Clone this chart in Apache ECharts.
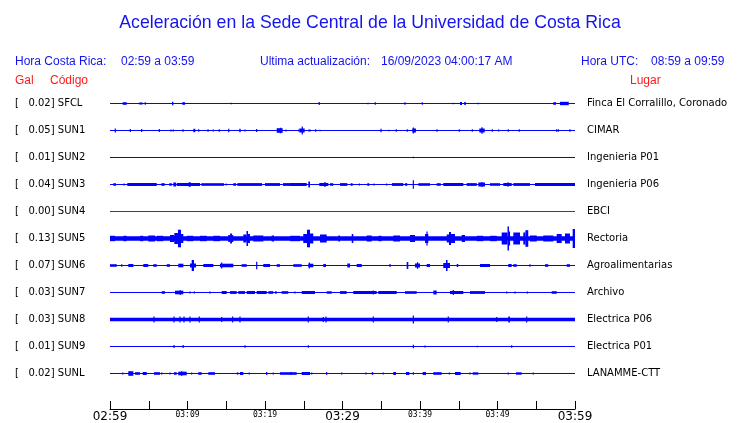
<!DOCTYPE html>
<html><head><meta charset="utf-8">
<script src="https://cdn.jsdelivr.net/npm/echarts@6/dist/echarts.min.js"></script>
<style>html,body{margin:0;padding:0;background:#fff}#c{width:740px;height:423px}</style>
</head><body><div id="c"></div>
<script>
// ---- data ----
const stations = ['SFCL','SUN1','SUN2','SUN3','SUN4','SUN5','SUN6','SUN7','SUN8','SUN9','SUNL'];
const galValues = ['0.02','0.05','0.01','0.04','0.00','0.13','0.07','0.03','0.03','0.01','0.02'];
const places = ['Finca El Corralillo, Coronado','CIMAR','Ingenieria P01','Ingenieria P06','EBCI','Rectoria','Agroalimentarias','Archivo','Electrica P06','Electrica P01','LANAMME-CTT'];
const tickMinutes = [0,10,20,30,40,50,60];
const tickLabels = ['02:59','03:09','03:19','03:29','03:39','03:49','03:59'];
// events: [startMinute, endMinute, amplitude]
const evSFCL = [[1.64,2.15,1.3],[3.74,4.22,1.0],[4.55,4.55,1.2],[8.0,8.17,1.8],[9.33,9.68,1.3],[15.65,15.65,0.8],[27.0,27.0,1.5],[33.29,33.29,0.7],[34.23,34.23,1.3],[38.06,38.06,1.3],[40.3,40.3,1.3],[44.3,44.3,0.8],[45.16,45.42,1.5],[45.68,45.94,1.3],[47.52,47.52,0.7],[57.2,57.55,1.3],[58.06,59.19,1.7]];
const evSUN1 = [[0.68,0.68,2],[2.62,2.62,1.5],[4.09,4.09,1.5],[6.36,6.36,1.5],[7.87,7.87,1],[8.17,8.17,1],[9.42,9.42,1.3],[10.75,11.01,1.7],[11.45,11.45,1.3],[12.65,12.65,1.3],[13.33,13.33,1],[14.1,14.1,1.3],[15.32,15.32,1.7],[16.68,16.86,1.7],[17.42,17.42,1],[18.84,19.0,1.5],[21.51,22.28,2.3],[21.94,22.1,2.8],[22.71,22.71,1],[24.35,24.35,1],[24.43,25.12,2],[24.81,24.81,4],[25.59,25.9,1],[26.54,26.54,1.3],[27.1,27.1,0.7],[34.97,34.97,1.7],[36.0,36.0,0.8],[36.94,36.94,1.3],[38.36,38.36,1.3],[39.01,39.48,2],[39.14,39.14,3],[42.19,42.19,1.3],[45.07,45.07,1.3],[46.75,46.75,1.3],[47.65,48.35,2],[48.0,48.0,3.3],[49.33,49.33,1.3],[50.15,50.15,1],[51.39,51.39,1.3],[52.81,52.81,1.3],[57.64,57.64,1.3],[57.85,57.85,1.3],[59.35,59.35,1.3]];
const evSUN2 = [[39.14,39.14,0.8]];
const evSUN3 = [[0.43,0.77,1.3],[1.81,1.81,1],[2.23,6.03,1.5],[6.62,7.06,1.3],[7.65,7.96,1.3],[8.17,8.52,2],[8.61,11.61,1.5],[10.15,10.41,2.3],[11.78,14.71,1.3],[14.97,14.97,1],[15.91,16.26,1.3],[16.43,19.61,1.4],[20.0,21.94,1.4],[22.32,24.52,1.4],[23.23,25.38,1.5],[25.59,25.81,3],[27.0,28.17,1.5],[27.74,27.74,2.5],[28.39,28.81,1.3],[29.68,30.62,1.4],[31.06,31.31,1.3],[32.17,32.17,1],[33.2,33.46,1.3],[34.06,34.06,1],[35.7,35.7,1],[36.39,37.85,1.4],[38.06,38.36,1.3],[39.14,39.14,4.3],[39.78,41.29,1.3],[42.15,42.67,1.3],[43.0,45.59,1.5],[46.03,47.32,1.4],[47.52,48.39,2],[48.0,48.0,2.5],[49.03,50.32,1.3],[50.75,51.83,1.5],[51.35,51.35,2.2],[52.04,54.19,1.4],[54.84,60,1.4]];
const evSUN4 = [];
const evSUN5 = [[0,60,2.3],[0,0.65,2.7],[1.72,2.15,2.7],[3.87,4.3,2.7],[4.94,5.81,3],[6.03,6.88,2.7],[7.74,8.3,3.5],[8.3,8.77,5.5],[8.77,9.16,8.8],[9.16,9.46,4.5],[9.9,10.75,2.7],[11.61,12.48,2.7],[13.33,14.19,2.7],[15.26,15.5,3.5],[15.5,15.75,5],[15.75,15.91,3.5],[17.2,17.61,4],[17.61,17.81,7.5],[17.81,18.06,4.5],[18.49,19.78,3],[20.86,21.16,3],[23.23,24.52,2.7],[24.94,25.42,4.5],[25.42,25.81,8.8],[25.81,26.23,5],[27.1,27.96,4],[29.46,29.68,3],[31.19,31.39,4.5],[33.12,33.77,3],[34.62,35.06,2.7],[36.55,37.42,3],[38.71,39.35,3.5],[40.65,41.07,4.5],[40.84,40.97,7],[43.45,43.74,4],[43.74,44.0,6.5],[44.0,44.52,4.5],[45.38,45.81,3.5],[47.32,48.17,2.7],[49.03,49.9,2.7],[50.54,51.29,6],[51.29,51.48,12],[51.48,51.61,7],[52.04,52.9,6],[53.33,53.6,6],[53.6,53.97,8.3],[54.19,55.06,3],[55.91,57.2,3],[57.64,58.28,4.5],[58.71,59.35,5],[59.7,60,9.5]];
const evSUN6 = [[0,0.86,1.3],[1.51,1.51,1.2],[2.36,3.01,1.5],[4.3,4.94,1.5],[5.59,6.03,1.3],[7.32,7.74,1.3],[8.81,9.46,1.8],[10.32,11.1,2],[10.54,10.84,5.5],[12.04,13.33,1.5],[14.19,15.91,1.8],[14.41,14.41,3],[16.99,17.64,1.3],[18.93,18.93,3.7],[19.78,20.65,1.5],[21.51,21.94,1.3],[23.65,24.74,1.3],[25.59,26.23,1.8],[25.72,25.72,3],[27.52,27.87,1.5],[30.62,30.97,2],[31.83,32.48,1.5],[36.13,36.13,1.5],[38.28,38.49,3.5],[39.35,40.0,2],[39.68,39.68,3.3],[40.86,41.29,1.5],[43.0,43.87,2.5],[43.35,43.55,5.5],[44.74,44.94,1.5],[47.74,49.03,1.5],[51.39,51.83,1.5],[52.04,52.48,1.3],[54.19,54.19,1.2],[56.13,56.55,1.3],[58.93,59.35,1.3]];
const evSUN7 = [[6.67,7.1,1.3],[8.39,9.46,1.8],[8.97,9.16,2.3],[10.32,10.32,1.1],[10.88,10.88,1.1],[12.9,12.9,1],[14.41,15.06,1.5],[15.48,16.35,1.4],[16.55,17.42,1.4],[17.64,18.71,1.5],[18.93,20.22,1.5],[20.43,21.07,1.3],[21.29,21.51,1.2],[22.15,23.0,1.3],[23.87,23.87,1],[24.74,26.45,1.5],[27.96,28.61,1.2],[29.68,30.54,1.4],[31.39,34.41,1.5],[33.97,33.97,2],[34.62,36.99,1.5],[38.06,39.57,1.3],[41.72,42.15,2],[43.87,45.59,1.5],[44.3,44.3,2.5],[46.45,48.39,1.4],[51.19,51.19,1],[52.26,52.26,1],[53.85,53.85,1],[56.99,57.64,1.3]];
const evSUN8 = [[0,60,1.8],[5.68,5.68,3],[8.26,8.26,3],[9.03,9.03,3],[9.55,9.55,3],[10.32,10.32,3],[11.52,11.52,3],[14.41,14.41,2.5],[15.83,15.83,3],[16.77,16.77,3],[25.59,25.59,3],[27.52,27.52,2.5],[27.87,27.87,3],[33.97,33.97,3],[39.14,39.14,4],[43.65,43.65,3],[49.9,49.9,2.5],[51.39,51.61,3],[53.77,53.77,3]];
const evSUN9 = [[8.26,8.26,1.5],[9.38,9.5,1.5],[17.42,17.42,1.3],[25.59,25.59,1.3],[39.14,39.14,1.8],[40.65,40.65,1],[47.4,47.4,0.7],[51.83,51.83,1.2]];
const evSUNL = [[1.64,1.64,1],[2.36,3.01,2.3],[3.23,3.87,1.3],[4.22,4.74,1.5],[5.68,6.45,1.3],[6.67,6.67,1.1],[7.74,7.74,1.1],[8.26,8.61,1.3],[8.81,9.9,1.8],[9.25,9.25,2.3],[10.54,10.54,1.1],[11.39,11.83,1.3],[12.68,13.55,1.3],[16.35,16.55,1.1],[16.77,17.2,1.5],[17.97,17.97,1.1],[20.22,20.22,1.5],[21.07,21.07,1.1],[21.94,23.45,1.3],[23.23,24.09,1.3],[24.74,25.81,1.5],[26.03,26.03,1.1],[27.87,28.04,1.3],[29.9,29.9,1.1],[33.03,33.03,1.1],[33.77,33.97,1.3],[35.26,35.26,1.1],[36.55,36.9,1.5],[38.19,38.62,1.5],[39.14,39.14,1.2],[40.35,40.77,1.5],[41.72,42.8,1.3],[43.78,43.78,1.1],[44.52,45.25,1.5],[46.45,46.45,1.1],[46.8,47.52,1.2],[51.39,51.39,1.1],[52.39,53.12,1.2],[54.62,54.62,1.1]];
const events = [evSFCL,evSUN1,evSUN2,evSUN3,evSUN4,evSUN5,evSUN6,evSUN7,evSUN8,evSUN9,evSUNL];

// ---- styling / rendering ----
const BLUE = '#0000ff', RED = '#dd0000', HEAD = '#1414ee';
const ROW_PX = 27;           // pixels per row at this chart size
const AMP_SCALE = 1 / ROW_PX; // amplitude units -> row units
const traceColor = i => stations[i] === 'SUN4' ? RED : BLUE;

const chart = echarts.init(document.getElementById('c'), null, {renderer: 'canvas'});

const series = [];
stations.forEach((s, i) => {
  series.push({
    type: 'line', data: [[0, i], [60, i]], symbol: 'none', silent: true,
    lineStyle: {color: traceColor(i), width: 1}, animation: false, z: 2
  });
});
const evData = [];
events.forEach((ev, i) => ev.forEach(e => evData.push([e[0], e[1], i, e[2]])));
series.push({
  type: 'custom', data: evData, encode: {x: [0, 1], y: 2}, animation: false, silent: true, z: 3,
  renderItem: function (params, api) {
    const t0 = api.value(0), t1 = api.value(1), r = api.value(2), a = api.value(3);
    const p0 = api.coord([t0, r - a * AMP_SCALE]);
    const p1 = api.coord([t1, r + a * AMP_SCALE]);
    let x = Math.min(p0[0], p1[0]), w = Math.abs(p1[0] - p0[0]);
    if (w < 1.2) { x = (p0[0] + p1[0]) / 2 - 0.6; w = 1.2; }
    const y = Math.min(p0[1], p1[1]), h = Math.abs(p1[1] - p0[1]);
    return {type: 'rect', shape: {x: x, y: y, width: w, height: h}, style: {fill: traceColor(r)}};
  }
});

const headFont = {fontFamily: 'Liberation Sans', fontWeight: 'normal', fontSize: 12, color: HEAD};
const redFont = Object.assign({}, headFont, {color: '#ff1a1a'});
function t(text, left, top, style) { return {text: text, left: left, top: top, padding: 0, textStyle: style}; }

const yLabelIndex = v => { const r = Math.round(v); return (Math.abs(v - r) < 1e-6 && r >= 0 && r < stations.length) ? r : -1; };

chart.setOption({
  animation: false,
  title: [
    {text: 'Aceleración en la Sede Central de la Universidad de Costa Rica', left: 'center', top: 14, padding: 0,
     textStyle: {fontFamily: 'Liberation Sans', fontWeight: 'normal', fontSize: 17.7, color: HEAD}},
    t('Hora Costa Rica:', 15, 55.5, headFont),
    t('02:59 a 03:59', 121, 55.5, headFont),
    t('Ultima actualización:', 260, 55.5, headFont),
    t('16/09/2023 04:00:17 AM', 381, 55.5, headFont),
    t('Hora UTC:', 581, 55.5, headFont),
    t('08:59 a 09:59', 651, 55.5, headFont),
    t('Gal', 15, 75, redFont),
    t('Código', 50, 75, redFont),
    t('Lugar', 630, 75, redFont)
  ],
  grid: {left: 110, right: 165, top: 76.5, bottom: 14, containLabel: false},
  xAxis: {
    type: 'value', min: 0, max: 60, interval: 5, position: 'bottom',
    axisLine: {show: true, onZero: false, lineStyle: {color: '#000', width: 1}},
    axisTick: {show: true, inside: true, length: 8, lineStyle: {color: '#000'}},
    splitLine: {show: false},
    axisLabel: {
      show: true, interval: 0, margin: 2, showMinLabel: true, showMaxLabel: true,
      formatter: function (v) {
        const k = tickMinutes.indexOf(Math.round(v));
        if (k < 0 || Math.abs(v - Math.round(v)) > 1e-6) return '';
        return (v % 30 === 0) ? '{big|' + tickLabels[k] + '}' : '{small|' + tickLabels[k] + '}';
      },
      rich: {
        big: {fontFamily: 'DejaVu Sans', fontSize: 12, color: '#000'},
        small: {fontFamily: 'DejaVu Sans Mono', fontSize: 8, color: '#000'}
      }
    }
  },
  yAxis: [
    {
      type: 'value', min: -1, max: 11.315, interval: 1, inverse: true, position: 'left',
      axisLine: {show: false}, axisTick: {show: false}, splitLine: {show: false},
      axisLabel: {
        show: true, align: 'left', margin: 95, showMaxLabel: false,
        fontFamily: 'DejaVu Sans', fontSize: 10, color: '#000',
        formatter: function (v) { const r = yLabelIndex(v); return r < 0 ? '' : '[   ' + galValues[r] + '] ' + stations[r]; }
      }
    },
    {
      type: 'value', min: -1, max: 11.315, interval: 1, inverse: true, position: 'right',
      axisLine: {show: false}, axisTick: {show: false}, splitLine: {show: false},
      axisLabel: {
        show: true, align: 'left', margin: 12, showMaxLabel: false,
        fontFamily: 'DejaVu Sans', fontSize: 10, color: '#000',
        formatter: function (v) { const r = yLabelIndex(v); return r < 0 ? '' : places[r]; }
      }
    }
  ],
  series: series
});
</script></body></html>
